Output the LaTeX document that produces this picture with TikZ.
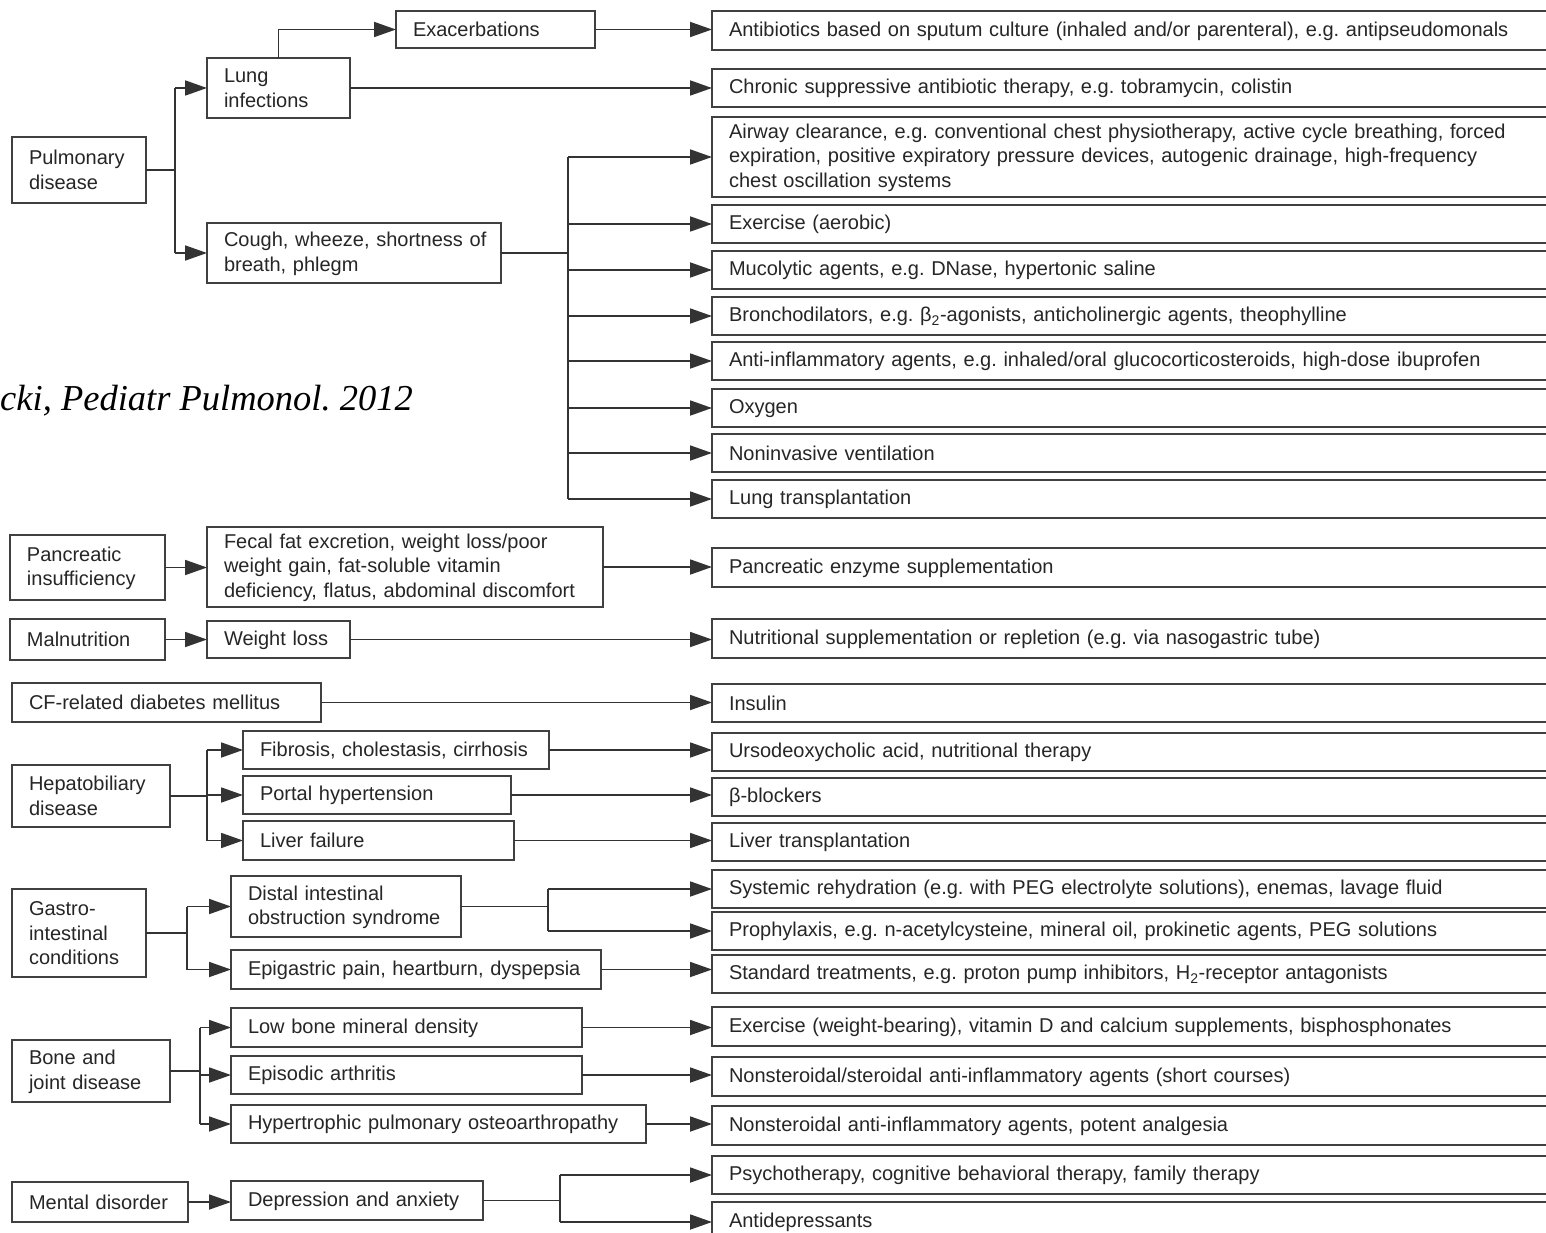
\documentclass[tikz,border=0pt]{standalone}
\usepackage{fontspec}
\setmainfont{Liberation Sans}
\newfontfamily\citefont{Liberation Serif}
\usetikzlibrary{arrows.meta}
\frenchspacing
\tikzset{
  bx/.style={draw=black!75, line width=1.8pt, rectangle, anchor=north west,
    inner xsep=17pt, inner ysep=0pt, outer sep=0pt, align=left,
    text=black!85, font=\fontsize{20pt}{24.5pt}\selectfont},
  ln/.style={draw=black!80, line width=1.8pt},
  arr/.style={ln, -{Triangle[length=22pt,width=15pt]}},
}
\newcommand\vstrut{\rule[-2pt]{0pt}{18pt}}
\newcommand\bx[6]{\pgfmathsetmacro\tw{#4-34}%
  \node[bx, minimum width=#4pt, minimum height=#5pt, text width=\tw pt] (#1) at (#2,#3) {\vstrut #6\vstrut};}
\begin{document}
\begin{tikzpicture}[x=1pt,y=-1pt]
\useasboundingbox (0,0) rectangle (1546,1233);
\fill[white] (0,0) rectangle (1546,1233);
\clip (0,0) rectangle (1546,1233);
% citation
\node[anchor=base west, inner sep=0pt, font=\citefont\itshape\fontsize{36.5pt}{40pt}\selectfont] (cite) at (0,410) {cki, Pediatr Pulmonol. 2012};
% left boxes
\bx{pulm}{12}{137}{134}{66}{Pulmonary\\disease}
\bx{lung}{207}{58}{143}{60}{Lung\\infections}
\bx{exac}{396}{11}{199}{37}{Exacerbations}
\bx{cough}{207}{223}{294}{60}{\mbox{Cough, wheeze, shortness of}\\breath, phlegm}
\bx{panc}{10}{535}{155}{65}{Pancreatic\\insufficiency}
\bx{fecal}{207}{527}{396}{80}{Fecal fat excretion, weight loss/poor\\weight gain, fat-soluble vitamin\\deficiency, flatus, abdominal discomfort}
\bx{maln}{10}{619}{155}{41}{Malnutrition}
\bx{wloss}{207}{621}{143}{37}{Weight loss}
\bx{cfdm}{12}{683}{309}{39}{CF-related diabetes mellitus}
\bx{hepa}{12}{765}{158}{62}{Hepatobiliary\\disease}
\bx{fib}{243}{731}{306}{38}{Fibrosis, cholestasis, cirrhosis}
\bx{portal}{243}{776}{268}{38}{Portal hypertension}
\bx{liverf}{243}{821}{271}{39}{Liver failure}
\bx{gastro}{12}{889}{134}{88}{Gastro-\\intestinal\\conditions}
\bx{dios}{231}{876}{230}{61}{Distal intestinal\\obstruction syndrome}
\bx{epig}{231}{950}{370}{39}{Epigastric pain, heartburn, dyspepsia}
\bx{bone}{12}{1040}{158}{62}{Bone and\\joint disease}
\bx{lowbmd}{231}{1008}{351}{39}{Low bone mineral density}
\bx{arth}{231}{1056}{351}{38}{Episodic arthritis}
\bx{hpoa}{231}{1105}{415}{38}{Hypertrophic pulmonary osteoarthropathy}
\bx{mental}{12}{1182}{176}{40}{Mental disorder}
\bx{dep}{231}{1181}{252}{39}{Depression and anxiety}
% right boxes
\bx{r1}{712}{11}{900}{39}{Antibiotics based on sputum culture (inhaled and/or parenteral), e.g. antipseudomonals}
\bx{r2}{712}{69}{900}{38}{Chronic suppressive antibiotic therapy, e.g. tobramycin, colistin}
\bx{r3}{712}{117}{900}{80}{Airway clearance, e.g. conventional chest physiotherapy, active cycle breathing, forced\\expiration, positive expiratory pressure devices, autogenic drainage, high-frequency\\chest oscillation systems}
\bx{r4}{712}{205}{900}{38}{Exercise (aerobic)}
\bx{r5}{712}{251}{900}{38}{Mucolytic agents, e.g. DNase, hypertonic saline}
\bx{r6}{712}{297}{900}{38}{Bronchodilators, e.g. β\textsubscript{2}-agonists, anticholinergic agents, theophylline}
\bx{r7}{712}{342}{900}{38}{Anti-inflammatory agents, e.g. inhaled/oral glucocorticosteroids, high-dose ibuprofen}
\bx{r8}{712}{389}{900}{38}{Oxygen}
\bx{r9}{712}{434}{900}{38}{Noninvasive ventilation}
\bx{r10}{712}{480}{900}{38}{Lung transplantation}
\bx{r11}{712}{548}{900}{39}{Pancreatic enzyme supplementation}
\bx{r12}{712}{619}{900}{39}{Nutritional supplementation or repletion (e.g. via nasogastric tube)}
\bx{r13}{712}{684}{900}{38}{Insulin}
\bx{r14}{712}{733}{900}{38}{Ursodeoxycholic acid, nutritional therapy}
\bx{r15}{712}{778}{900}{38}{β-blockers}
\bx{r16}{712}{823}{900}{38}{Liver transplantation}
\bx{r17}{712}{870}{900}{38}{Systemic rehydration (e.g. with PEG electrolyte solutions), enemas, lavage fluid}
\bx{r18}{712}{912}{900}{38}{Prophylaxis, e.g. n-acetylcysteine, mineral oil, prokinetic agents, PEG solutions}
\bx{r19}{712}{955}{900}{38}{Standard treatments, e.g. proton pump inhibitors, H\textsubscript{2}-receptor antagonists}
\bx{r20}{712}{1007}{900}{39}{Exercise (weight-bearing), vitamin D and calcium supplements, bisphosphonates}
\bx{r21}{712}{1057}{900}{39}{Nonsteroidal/steroidal anti-inflammatory agents (short courses)}
\bx{r22}{712}{1106}{900}{39}{Nonsteroidal anti-inflammatory agents, potent analgesia}
\bx{r23}{712}{1156}{900}{38}{Psychotherapy, cognitive behavioral therapy, family therapy}
\bx{r24}{712}{1202}{900}{40}{Antidepressants}
% junctions
\coordinate (jp) at (175,170);
\coordinate (jc) at (568,253);
\coordinate (jh) at (207,796);
\coordinate (jg) at (187,933);
\coordinate (jd) at (548,906);
\coordinate (jb) at (200,1071);
\coordinate (jm) at (560,1201);
% pulmonary
\draw[ln] (pulm.east) -- (pulm.east -| jp);
\draw[ln] (jp |- lung.west) -- (jp |- cough.west);
\draw[arr] (jp |- lung.west) -- (lung.west);
\draw[arr] (jp |- cough.west) -- (cough.west);
\draw[arr] (lung.north) |- (exac.west);
\draw[arr] (exac.east) -- (exac.east -| r1.west);
\draw[arr] (lung.east) -- (lung.east -| r2.west);
\draw[ln] (cough.east) -- (cough.east -| jc);
\draw[ln] (jc |- r3.west) -- (jc |- r10.west);
\foreach \n in {3,...,10} {\draw[arr] (jc |- r\n.west) -- (r\n.west);}
% pancreatic, malnutrition, diabetes
\draw[arr] (panc.east) -- (panc.east -| fecal.west);
\draw[arr] (fecal.east) -- (fecal.east -| r11.west);
\draw[arr] (maln.east) -- (maln.east -| wloss.west);
\draw[arr] (wloss.east) -- (wloss.east -| r12.west);
\draw[arr] (cfdm.east) -- (cfdm.east -| r13.west);
% hepatobiliary
\draw[ln] (hepa.east) -- (hepa.east -| jh);
\draw[ln] (jh |- fib.west) -- (jh |- liverf.west);
\foreach \b in {fib,portal,liverf} {\draw[arr] (jh |- \b.west) -- (\b.west);}
\draw[arr] (fib.east) -- (fib.east -| r14.west);
\draw[arr] (portal.east) -- (portal.east -| r15.west);
\draw[arr] (liverf.east) -- (liverf.east -| r16.west);
% gastro
\draw[ln] (gastro.east) -- (gastro.east -| jg);
\draw[ln] (jg |- dios.west) -- (jg |- epig.west);
\draw[arr] (jg |- dios.west) -- (dios.west);
\draw[arr] (jg |- epig.west) -- (epig.west);
\draw[ln] (dios.east) -- (dios.east -| jd);
\draw[ln] (jd |- r17.west) -- (jd |- r18.west);
\draw[arr] (jd |- r17.west) -- (r17.west);
\draw[arr] (jd |- r18.west) -- (r18.west);
\draw[arr] (epig.east) -- (epig.east -| r19.west);
% bone
\draw[ln] (bone.east) -- (bone.east -| jb);
\draw[ln] (jb |- lowbmd.west) -- (jb |- hpoa.west);
\foreach \b in {lowbmd,arth,hpoa} {\draw[arr] (jb |- \b.west) -- (\b.west);}
\draw[arr] (lowbmd.east) -- (lowbmd.east -| r20.west);
\draw[arr] (arth.east) -- (arth.east -| r21.west);
\draw[arr] (hpoa.east) -- (hpoa.east -| r22.west);
% mental
\draw[arr] (mental.east) -- (mental.east -| dep.west);
\draw[ln] (dep.east) -- (dep.east -| jm);
\draw[ln] (jm |- r23.west) -- (jm |- r24.west);
\draw[arr] (jm |- r23.west) -- (r23.west);
\draw[arr] (jm |- r24.west) -- (r24.west);
\end{tikzpicture}
\end{document}
